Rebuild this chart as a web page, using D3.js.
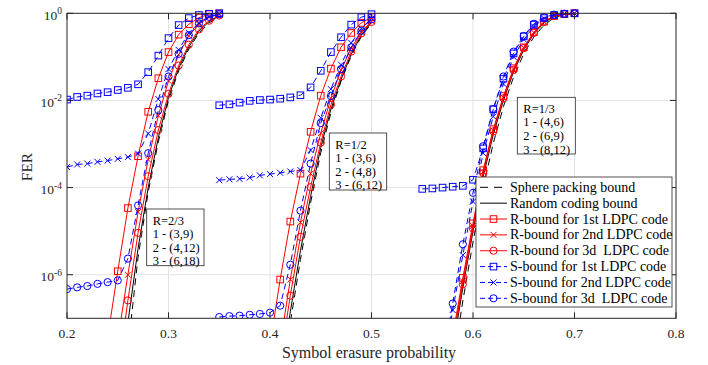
<!DOCTYPE html>
<html>
<head>
<meta charset="utf-8">
<script src="https://cdn.jsdelivr.net/npm/d3@7"></script>
<style>
  body { margin: 0; background: #fff; }
  text { font-family: "Liberation Serif", "Times New Roman", serif; fill: #262626; }
</style>
</head>
<body>
<svg id="chart" width="708" height="365"></svg>
<script>
// -- erasure probabilities for each code-rate group -- //
const p23 = [0.20, 0.21, 0.22, 0.23, 0.24, 0.25, 0.26, 0.27, 0.28, 0.29, 0.30, 0.31, 0.32, 0.33, 0.34, 0.35];
const p12 = [0.35, 0.36, 0.37, 0.38, 0.39, 0.40, 0.41, 0.42, 0.43, 0.44, 0.45, 0.46, 0.47, 0.48, 0.49, 0.50];
const p13 = [0.55, 0.56, 0.57, 0.58, 0.59, 0.60, 0.61, 0.62, 0.63, 0.64, 0.65, 0.66, 0.67, 0.68, 0.69, 0.70];

// -- FER values given as log10(FER), null = not plotted -- //
// R = 2/3
const sphere23 = [null, null, null, null, null, -9.8, -7.7, -5.6, -4.1, -2.95, -2.0, -1.32, -0.82, -0.45, -0.22, -0.08];
const random23 = [null, null, null, null, null, -9.0, -7.1, -5.4, -4.0, -2.85, -1.93, -1.26, -0.77, -0.41, -0.19, -0.06];
const r1_23 = [null, null, null, null, -7.45, -5.92, -4.47, -3.28, -2.26, -1.49, -0.89, -0.49, -0.25, -0.10, -0.02, 0];
const r2_23 = [null, null, null, null, null, -7.5, -6.0, -4.56, -3.36, -2.35, -1.55, -0.95, -0.52, -0.25, -0.09, -0.02];
const r3_23 = [null, null, null, null, null, -8.3, -6.59, -5.04, -3.74, -2.68, -1.85, -1.2, -0.72, -0.37, -0.17, -0.05];
const s1_23 = [-1.98, -1.92, -1.89, -1.84, -1.81, -1.76, -1.71, -1.63, -1.35, -0.97, -0.57, -0.27, -0.11, -0.04, -0.01, 0];
const s2_23 = [-3.53, -3.47, -3.45, -3.41, -3.38, -3.34, -3.30, -3.22, -2.76, -1.97, -1.28, -0.84, -0.45, -0.22, -0.07, -0.01];
const s3_23 = [-6.33, -6.29, -6.26, -6.21, -6.17, -6.13, -5.63, -4.41, -3.21, -2.22, -1.45, -0.93, -0.50, -0.23, -0.08, -0.02];
// R = 1/2
const sphere12 = [null, null, null, null, null, null, -8.7, -7.1, -5.65, -4.35, -3.2, -2.28, -1.56, -0.98, -0.53, -0.23];
const random12 = [null, null, null, null, null, null, -8.4, -6.85, -5.45, -4.2, -3.08, -2.2, -1.52, -0.94, -0.5, -0.21];
const r1_12 = [null, null, null, null, null, -7.6, -6.11, -4.78, -3.68, -2.72, -1.89, -1.27, -0.78, -0.45, -0.22, -0.09];
const r2_12 = [null, null, null, null, null, null, -7.6, -6.11, -4.8, -3.68, -2.75, -1.95, -1.3, -0.8, -0.43, -0.18];
const r3_12 = [null, null, null, null, null, null, -8.0, -6.48, -5.13, -3.99, -2.97, -2.1, -1.45, -0.88, -0.46, -0.2];
const s1_12 = [-2.11, -2.09, -2.05, -2.01, -1.99, -1.98, -1.96, -1.93, -1.88, -1.70, -1.32, -0.89, -0.55, -0.26, -0.09, -0.02];
const s2_12 = [-3.83, -3.81, -3.80, -3.77, -3.72, -3.69, -3.66, -3.63, -3.60, -3.14, -2.40, -1.74, -1.18, -0.68, -0.35, -0.12];
const s3_12 = [-6.97, -6.95, -6.94, -6.92, -6.90, -6.87, -6.71, -5.77, -4.53, -3.45, -2.52, -1.9, -1.28, -0.78, -0.40, -0.14];
// R = 1/3
const sphere13 = [null, null, null, -8.1, -6.6, -5.25, -4.0, -2.98, -2.14, -1.46, -0.93, -0.54, -0.27, -0.1, -0.03, -0.01];
const random13 = [null, null, null, -7.7, -6.3, -5.0, -3.75, -2.78, -2.0, -1.34, -0.84, -0.47, -0.22, -0.07, -0.02, 0];
const r1_13 = [null, null, null, -7.4, -6.07, -4.82, -3.6, -2.66, -1.9, -1.26, -0.78, -0.43, -0.19, -0.06, -0.02, 0];
const r2_13 = [null, null, null, -7.5, -6.15, -4.88, -3.64, -2.69, -1.93, -1.28, -0.79, -0.44, -0.2, -0.06, -0.02, 0];
const r3_13 = [null, null, null, -7.6, -6.22, -4.94, -3.67, -2.71, -1.95, -1.30, -0.80, -0.45, -0.2, -0.06, -0.02, 0];
const s1_13 = [-4.03, -4.02, -4.0, -3.98, -3.96, -3.82, -3.1, -2.2, -1.5, -0.92, -0.53, -0.26, -0.11, -0.04, -0.01, 0];
const s2_13 = [null, null, -8.2, -6.81, -5.55, -4.32, -3.21, -2.37, -1.62, -1.0, -0.6, -0.3, -0.12, -0.04, -0.01, 0];
const s3_13 = [null, null, -8.0, -6.66, -5.3, -4.12, -3.05, -2.2, -1.45, -0.88, -0.52, -0.24, -0.09, -0.03, -0.01, 0];

// -- ticks, legend and annotation texts -- //
const xTicks = [0.2, 0.3, 0.4, 0.5, 0.6, 0.7, 0.8];
const yTickExp = [0, -2, -4, -6];
const legendLabels = ["Sphere packing bound", "Random coding bound",
  "R-bound for 1st LDPC code", "R-bound for 2nd LDPC code", "R-bound for 3d  LDPC code",
  "S-bound for 1st LDPC code", "S-bound for 2nd LDPC code", "S-bound for 3d  LDPC code"];
const notes23 = ["R=2/3", "1 - (3,9)", "2 - (4,12)", "3 - (6,18)"];
const notes12 = ["R=1/2", "1 - (3,6)", "2 - (4,8)", "3 - (6,12)"];
const notes13 = ["R=1/3", "1 - (4,6)", "2 - (6,9)", "3 - (8,12)"];

const svg = d3.select("#chart");
const plotLeft = 67, plotRight = 676, plotTop = 13.3, plotBottom = 318.3;

const xScale = d3.scaleLinear().domain([0.2, 0.8]).range([plotLeft, plotRight]);
const yScale = d3.scaleLog().domain([1e-7, 1]).range([plotBottom, plotTop]);

// -- grid -- //
const grid = svg.append("g");
grid.selectAll(".gx").data(xTicks.slice(1, -1)).enter().append("line")
  .attr("x1", d => xScale(d)).attr("x2", d => xScale(d))
  .attr("y1", plotTop).attr("y2", plotBottom)
  .style("stroke", "#e3e3e3").style("stroke-width", 1);
grid.selectAll(".gy").data(yTickExp.slice(1)).enter().append("line")
  .attr("x1", plotLeft).attr("x2", plotRight)
  .attr("y1", d => yScale(Math.pow(10, d))).attr("y2", d => yScale(Math.pow(10, d)))
  .style("stroke", "#e3e3e3").style("stroke-width", 1);

svg.append("clipPath").attr("id", "plotClip")
  .append("rect").attr("x", plotLeft).attr("y", plotTop - 5)
  .attr("width", plotRight - plotLeft).attr("height", plotBottom - plotTop + 5);

const plot = svg.append("g").attr("clip-path", "url(#plotClip)");

// -- marker drawing -- //
let drawMarker = (g, kind, color) => {
  if (kind === "square") {
    g.append("rect").attr("x", -3.3).attr("y", -3.3).attr("width", 6.6).attr("height", 6.6)
      .style("fill", "none").style("stroke", color).style("stroke-width", 1);
  } else if (kind === "circle") {
    g.append("circle").attr("r", 3.6)
      .style("fill", "none").style("stroke", color).style("stroke-width", 1);
  } else if (kind === "x") {
    g.append("path").attr("d", "M-3,-3L3,3M-3,3L3,-3")
      .style("fill", "none").style("stroke", color).style("stroke-width", 1);
  }
};

let line = d3.line()
  .defined(d => d[1] !== null)
  .x(d => xScale(d[0]))
  .y(d => yScale(Math.pow(10, d[1])));

let styles = {
  sphere: { color: "#000", dash: "7,5", marker: null },
  random: { color: "#000", dash: null, marker: null },
  r1: { color: "#ff0000", dash: null, marker: "square" },
  r2: { color: "#ff0000", dash: null, marker: "x" },
  r3: { color: "#ff0000", dash: null, marker: "circle" },
  s1: { color: "#0000ff", dash: "6,4", marker: "square" },
  s2: { color: "#0000ff", dash: "6,4", marker: "x" },
  s3: { color: "#0000ff", dash: "6,4", marker: "circle" }
};

let groups = [
  { p: p23, sphere: sphere23, random: random23, r1: r1_23, r2: r2_23, r3: r3_23, s1: s1_23, s2: s2_23, s3: s3_23 },
  { p: p12, sphere: sphere12, random: random12, r1: r1_12, r2: r2_12, r3: r3_12, s1: s1_12, s2: s2_12, s3: s3_12 },
  { p: p13, sphere: sphere13, random: random13, r1: r1_13, r2: r2_13, r3: r3_13, s1: s1_13, s2: s2_13, s3: s3_13 }
];

let order = ["sphere", "random", "r1", "r2", "r3", "s1", "s2", "s3"];
order.forEach(key => {
  let st = styles[key];
  groups.forEach(gr => {
    let pts = gr.p.map((p, i) => [p, gr[key][i]]);
    plot.append("path")
      .attr("d", line(pts))
      .style("fill", "none")
      .style("stroke", st.color)
      .style("stroke-width", 1)
      .style("stroke-dasharray", st.dash);
    if (st.marker) {
      pts.filter(d => d[1] !== null).forEach(d => {
        let g = plot.append("g").attr("transform", `translate(${xScale(d[0])},${yScale(Math.pow(10, d[1]))})`);
        drawMarker(g, st.marker, st.color);
      });
    }
  });
});

// -- annotation boxes -- //
let drawNote = (x, y, w, h, lines) => {
  svg.append("rect").attr("x", x).attr("y", y).attr("width", w).attr("height", h)
    .style("fill", "#fff").style("stroke", "#262626").style("stroke-width", 0.8);
  lines.forEach((t, i) => {
    svg.append("text").attr("x", x + 6).attr("y", y + 15.5 + i * 13.6)
      .style("font-size", "12.5px").style("fill", "#000").text(t);
  });
};
drawNote(146.7, 209, 57.3, 56.7, notes23);
drawNote(329.3, 133, 57.4, 57, notes12);
drawNote(517.3, 97.3, 58, 56.7, notes13);

// -- axes box and ticks -- //
const axis = svg.append("g");
axis.append("rect").attr("x", plotLeft).attr("y", plotTop)
  .attr("width", plotRight - plotLeft).attr("height", plotBottom - plotTop)
  .style("fill", "none").style("stroke", "#262626").style("stroke-width", 1);
xTicks.forEach(t => {
  let x = xScale(t);
  axis.append("line").attr("x1", x).attr("x2", x).attr("y1", plotBottom).attr("y2", plotBottom - 6).style("stroke", "#262626");
  axis.append("line").attr("x1", x).attr("x2", x).attr("y1", plotTop).attr("y2", plotTop + 6).style("stroke", "#262626");
  axis.append("text").attr("x", x).attr("y", 337.5).attr("text-anchor", "middle")
    .style("font-size", "13.5px").text(d3.format(".1f")(t));
});
yTickExp.forEach(e => {
  let y = yScale(Math.pow(10, e));
  axis.append("line").attr("x1", plotLeft).attr("x2", plotLeft + 6).attr("y1", y).attr("y2", y).style("stroke", "#262626");
  axis.append("line").attr("x1", plotRight).attr("x2", plotRight - 6).attr("y1", y).attr("y2", y).style("stroke", "#262626");
  let txt = axis.append("text").attr("x", 62).attr("y", y + 6.5).attr("text-anchor", "end")
    .style("font-size", "13.5px");
  txt.append("tspan").text("10");
  txt.append("tspan").attr("dy", -5.5).style("font-size", "9.5px").text(e === 0 ? "0" : "-" + Math.abs(e));
});

axis.append("text").attr("x", 369).attr("y", 358).attr("text-anchor", "middle")
  .style("font-size", "16px").text("Symbol erasure probability");
axis.append("text").attr("transform", "translate(32,167) rotate(-90)").attr("text-anchor", "middle")
  .style("font-size", "15.5px").text("FER");

// -- legend -- //
const legend = svg.append("g");
legend.append("rect").attr("x", 476).attr("y", 177).attr("width", 196).attr("height", 130)
  .style("fill", "#fff").style("stroke", "#262626").style("stroke-width", 0.8);
order.forEach((key, i) => {
  let st = styles[key];
  let y = 187.3 + i * 15.86;
  legend.append("line").attr("x1", 480).attr("x2", 507).attr("y1", y).attr("y2", y)
    .style("stroke", st.color).style("stroke-width", 1)
    .style("stroke-dasharray", key === "sphere" ? "8,6" : (st.dash ? "5,3" : null));
  if (st.marker) {
    let g = legend.append("g").attr("transform", `translate(493.5,${y})`);
    drawMarker(g, st.marker, st.color);
  }
  legend.append("text").attr("x", 510).attr("y", y + 4.5)
    .style("font-size", "14px").style("fill", "#000").style("white-space", "pre")
    .text(legendLabels[i]);
});
</script>
</body>
</html>
